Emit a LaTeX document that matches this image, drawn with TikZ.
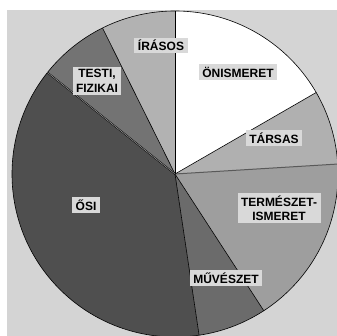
\documentclass[tikz,border=0pt]{standalone}
\usepackage{fontspec}
\setmainfont{Liberation Sans}
\definecolor{bggray}{gray}{0.83}
\definecolor{lblgray}{gray}{0.85}
\definecolor{irasgray}{gray}{0.70}
\definecolor{testigray}{gray}{0.45}
\definecolor{osigray}{gray}{0.31}
\definecolor{muvgray}{gray}{0.42}
\definecolor{termgray}{gray}{0.62}
\definecolor{tarsgray}{gray}{0.69}

\begin{document}
\begin{tikzpicture}[x=1pt, y=1pt,
    lbl/.style={fill=lblgray, text=black, font=\bfseries\fontsize{12}{14.5}\selectfont,
        inner xsep=3.5pt, inner ysep=2.5pt, align=center}]
    \useasboundingbox (0,0) rectangle (337,336);
    \clip (0,0) rectangle (337,336);
    \fill[white] (0,0) rectangle (337,336);
    \fill[bggray] (7,0) rectangle (337,326);

    \coordinate (c) at (175,162);

    % slices, counterclockwise from the top
    \fill[irasgray] (c) -- ++(90:163) arc[start angle=90, end angle=116.4, radius=163pt] -- cycle;
    \fill[testigray] (c) -- ++(116.4:163) arc[start angle=116.4, end angle=141.5, radius=163pt] -- cycle;
    \fill[osigray] (c) -- ++(141.5:163) arc[start angle=141.5, end angle=278.5, radius=163pt] -- cycle;
    \fill[muvgray] (c) -- ++(278.5:163) arc[start angle=278.5, end angle=303, radius=163pt] -- cycle;
    \fill[termgray] (c) -- ++(303:163) arc[start angle=303, end angle=363.5, radius=163pt] -- cycle;
    \fill[tarsgray] (c) -- ++(3.5:163) arc[start angle=3.5, end angle=30, radius=163pt] -- cycle;
    \fill[white] (c) -- ++(30:163) arc[start angle=30, end angle=90, radius=163pt] -- cycle;

    % borders
    \draw[black, line width=0.6pt] (c) circle[radius=163pt];
    \draw[black, line width=0.6pt] (c) -- ++(90:163);
    \draw[black, line width=0.6pt] (c) -- ++(116.4:163);
    \draw[black, line width=0.5pt, double=gray!75, double distance=0.5pt] (c) -- ++(141.5:163);
    \draw[black, line width=0.6pt] (c) -- ++(278.5:163);
    \draw[black, line width=0.6pt] (c) -- ++(303:163);
    \draw[black!65, line width=1pt] (c) -- ++(3.5:163);
    \draw[black, line width=0.6pt] (c) -- ++(30:163);

    % labels
    \node[lbl] (iras) at (161, 290.5) {ÍRÁSOS};
    \node[lbl] (testi) at (97, 255) {TESTI,\\FIZIKAI};
    \node[lbl] (onism) at (238, 264) {ÖNISMERET};
    \node[lbl] (tars) at (274, 198) {TÁRSAS};
    \node[lbl] (term) at (279, 128) {TERMÉSZET-\\ISMERET};
    \node[lbl] (muv) at (226, 58) {MŰVÉSZET};
    \node[lbl] (osi) at (86, 131) {ŐSI};
\end{tikzpicture}
\end{document}
